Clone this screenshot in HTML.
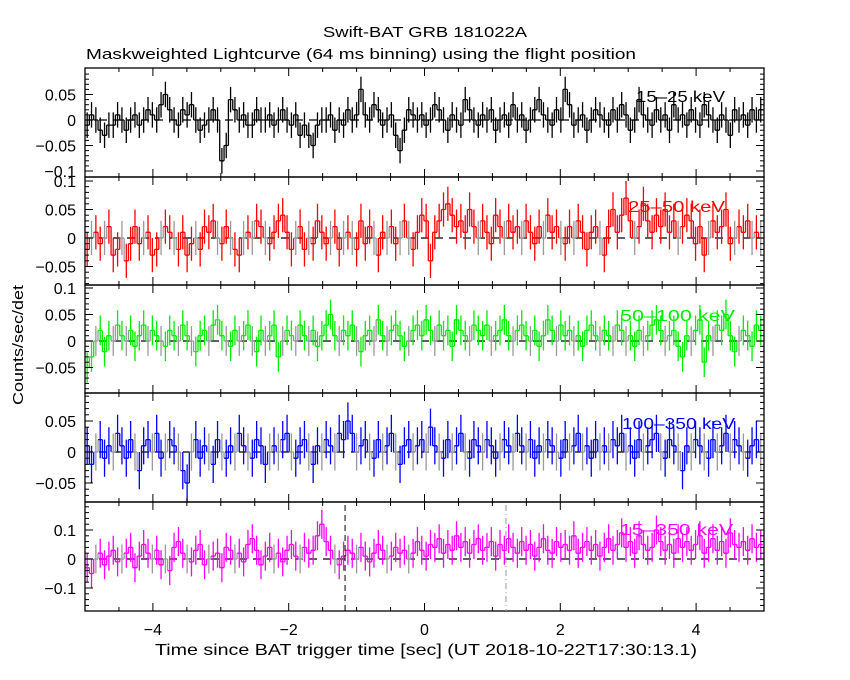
<!DOCTYPE html>
<html><head><meta charset="utf-8"><style>
body{margin:0;background:#fff;}
svg{display:block;font-family:"Liberation Sans",sans-serif;}
</style></head><body>
<svg id="chart" width="850" height="680" viewBox="0 0 850 680" xmlns="http://www.w3.org/2000/svg">
<rect width="850" height="680" fill="#fff"/>
<text x="323" y="37" font-size="15" textLength="204" lengthAdjust="spacingAndGlyphs">Swift-BAT GRB 181022A</text>
<text x="86" y="59" font-size="15" textLength="550" lengthAdjust="spacingAndGlyphs">Maskweighted Lightcurve (64 ms binning) using the flight position</text>
<text transform="translate(23,345) rotate(-90)" text-anchor="middle" font-size="15" textLength="120" lengthAdjust="spacingAndGlyphs">Counts/sec/det</text>
<text x="155" y="655" font-size="16" textLength="542" lengthAdjust="spacingAndGlyphs">Time since BAT trigger time [sec] (UT 2018-10-22T17:30:13.1)</text>
<g id="plots"></g>
</svg>
<script>
// values in units of 0.01 counts/sec/det, one per 64 ms bin starting at -5 s
const band15_25 = [-1,1,0,-2,-3,-1,-1,1,0,-2,0,1,-1,0,2,1,0,3,5,2,0,-1,2,1,3,0,-2,-1,0,2,0,-8,-5,4,2,0,1,-1,-1,2,0,0,1,-1,0,2,0,-1,1,-3,-1,-3,-5,-1,0,0,1,-2,0,-1,2,0,1,6,1,0,3,2,-1,0,1,-3,-6,-2,2,1,0,1,-1,0,3,2,0,-2,1,0,-1,4,2,0,-1,1,0,2,-2,0,1,-1,3,0,1,-2,0,2,4,1,0,-1,2,0,6,3,-1,0,1,-2,0,2,1,0,-1,2,0,3,1,-2,0,4,1,0,-1,2,0,1,-2,3,0,1,-1,2,0,-1,3,1,0,-2,1,0,-3,2,0,1,-1,2,0,2];
const band25_50 = [-2,0,1,-1,0,2,-3,-2,0,-4,-1,2,-1,0,1,-3,-2,0,2,1,0,-2,1,-3,-1,0,-2,2,1,3,0,-1,2,0,-2,-3,0,1,0,3,2,0,-1,1,3,4,1,-2,0,2,-2,0,-1,3,1,-1,0,2,-2,0,1,0,-2,3,-1,2,0,-3,1,0,2,-1,0,3,0,-2,1,4,3,-4,1,3,5,6,4,2,3,1,5,2,0,3,1,-1,4,2,0,3,1,2,0,3,1,-1,2,0,4,1,2,0,-1,2,0,3,1,-2,1,2,0,-3,2,5,1,4,7,3,0,2,6,3,1,4,2,5,1,3,0,2,4,3,-1,2,-3,0,3,1,2,5,-1,0,2,1,3,0,1,0];
const band50_100 = [-5,-3,0,2,-2,1,0,3,1,0,2,-1,1,3,0,2,1,0,-1,2,1,0,3,1,0,-2,1,2,0,3,4,1,0,-1,2,0,1,3,0,-2,2,0,1,3,-3,0,2,1,0,3,1,0,2,-1,1,3,5,1,0,2,1,3,0,-2,1,2,0,4,1,0,2,3,1,-1,0,2,3,1,4,2,0,3,1,2,-1,4,2,1,0,3,2,1,3,0,1,2,4,1,0,2,3,1,0,2,-1,1,4,2,0,3,1,2,0,1,-1,2,3,1,0,2,1,0,3,2,0,1,-1,2,0,1,3,4,2,0,1,2,-1,-3,1,0,2,4,-4,1,0,3,2,5,1,-2,0,2,1,-1,3,2];
const band100_350 = [1,-2,0,2,-1,1,0,3,1,-1,2,0,-3,1,2,0,3,-1,0,2,1,0,-3,-5,0,2,-1,1,0,-2,2,0,-1,1,0,3,1,0,-1,2,1,-2,0,1,0,2,3,0,-1,1,2,0,-2,1,0,2,1,0,3,2,5,3,0,1,2,0,-1,2,0,1,3,0,-2,1,2,0,1,2,0,4,1,0,-1,2,0,1,3,0,-1,2,1,0,2,1,-1,0,2,1,0,3,1,0,2,-1,1,0,2,1,0,-1,2,0,1,3,0,1,-1,2,0,1,0,2,1,3,0,1,-1,2,0,1,2,3,0,-1,2,1,0,-3,1,0,2,1,0,-1,2,0,1,3,0,2,1,0,-1,1,2,0];
const band15_350 = [-3,-5,0,2,-2,1,3,-1,0,2,4,-3,1,5,2,0,3,-2,0,-4,4,6,2,0,-1,3,5,-2,0,1,2,-3,4,3,0,2,-1,5,7,3,-2,1,4,0,2,-1,3,5,1,0,4,2,3,8,12,6,3,0,-2,1,3,2,0,4,1,-1,2,5,3,0,1,4,2,3,0,2,6,3,1,5,4,7,2,5,3,8,4,6,2,5,7,3,4,6,1,5,3,7,4,2,6,3,5,1,4,7,3,2,6,4,5,3,8,2,4,6,3,5,1,4,7,3,5,9,4,6,2,8,5,3,4,10,6,3,5,2,7,4,6,3,5,8,2,4,7,3,6,2,9,5,4,6,3,7,4,5];
const bandNames = ["15–25 keV","25–50 keV","50–100 keV","100–350 keV","15–350 keV"];
const bandErrors = [2.5,3,2.8,3,5];
const yTickValues = [[0.05,0,-0.05,-0.1],[0.1,0.05,0,-0.05],[0.1,0.05,0,-0.05],[0.05,0,-0.05],[0.1,0,-0.1]];
const yTickLabels = [["0.05","0","−0.05","−0.1"],["0.1","0.05","0","−0.05"],["0.1","0.05","0","−0.05"],["0.05","0","−0.05"],["0.1","0","−0.1"]];
const xTickValues = [-4,-2,0,2,4];
const xTickLabels = ["−4","−2","0","2","4"];
const binWidth = 0.064, tStart = -5;

const NS="http://www.w3.org/2000/svg";
const g=document.getElementById('plots');
function el(tag,attrs,parent){const e=document.createElementNS(NS,tag);for(const k in attrs)e.setAttribute(k,attrs[k]);(parent||g).appendChild(e);return e;}
const X0=85,X1=764;
function xs(t){return X0+(t+5)/10*(X1-X0);}
const panels=[
 {top:68,bot:177,zero:120,unit:25.5/0.05,color:"#000",data:band15_25,lx:636,ly:102,lw:89},
 {top:177,bot:285,zero:238,unit:28.5/0.05,color:"#ff0000",data:band25_50,lx:628,ly:212,lw:97},
 {top:285,bot:393,zero:341,unit:26.5/0.05,color:"#00ee00",data:band50_100,lx:620,ly:321,lw:115},
 {top:393,bot:502,zero:452,unit:31/0.05,color:"#0000ff",data:band100_350,lx:622,ly:429,lw:113},
 {top:502,bot:611,zero:559,unit:29/0.1,color:"#ff00ff",data:band15_350,lx:620,ly:535,lw:113}
];
panels.forEach((p,pi)=>{
  const pg=el('g',{});
  
  
  const ys=v=>p.zero-v*p.unit;
  const clipId='clip'+pi;
  const cp=el('clipPath',{id:clipId},pg);el('rect',{x:X0,y:p.top,width:X1-X0,height:p.bot-p.top},cp);
  const dg=el('g',{'clip-path':'url(#'+clipId+')'},pg);
  const zl=el('line',{x1:X0,x2:X1,y1:p.zero,y2:p.zero,stroke:'#000','stroke-dasharray':'8,6','stroke-width':1.2},dg);
  
  
  const err=bandErrors[pi]/100;
  p.data.forEach((vv,i)=>{
    const v=vv/100;
    const t0=tStart+i*binWidth,t1=t0+binWidth;
    const c=(pi>0 && vv===0)?'#999':p.color;
    const xa=xs(t0),xb=xs(t1),xm=(xa+xb)/2,y=ys(v);
    const bar=el('path',{d:`M${xa},${y}H${xb}M${xm},${ys(v+err)}V${ys(v-err)}`+(i+1<p.data.length?`M${xb},${y}V${ys(p.data[i+1]/100)}`:''),stroke:c,fill:'none','stroke-width':1.3},dg);
    
    
  });
  const fr=el('rect',{x:X0,y:p.top,width:X1-X0,height:p.bot-p.top,fill:'none',stroke:'#000','stroke-width':1.3},pg);
  
  
  for(let t=-5;t<=5;t+=0.5){
    const major=Math.abs(t%2)<1e-9 && Math.abs(t)<5;
    const L=major?8:4, x=xs(t);
    el('line',{x1:x,x2:x,y1:p.top,y2:p.top+L,stroke:'#000'},pg);
    el('line',{x1:x,x2:x,y1:p.bot,y2:p.bot-L,stroke:'#000'},pg);
  }
  const step=pi===4?0.02:0.01;
  for(let v=-0.3;v<=0.3;v+=step){
    const y=ys(v); if(y<=p.top+1||y>=p.bot-1)continue;
    const major=yTickValues[pi].some(tv=>Math.abs(tv-v)<1e-6);
    const L=major?8:4;
    el('line',{x1:X0,x2:X0+L,y1:y,y2:y,stroke:'#000'},pg);
    el('line',{x1:X1,x2:X1-L,y1:y,y2:y,stroke:'#000'},pg);
  }
  yTickValues[pi].forEach((tv,k)=>{
    const tl=el('text',{x:76,y:ys(tv)+6,'text-anchor':'end','font-size':16},pg);
    tl.textContent=yTickLabels[pi][k];
    
    
  });
  const lab=el('text',{x:p.lx,y:p.ly,'font-size':16,fill:p.color,textLength:p.lw,lengthAdjust:'spacingAndGlyphs'},pg);
  lab.textContent=bandNames[pi];
  
  
});
const m1=el('line',{x1:xs(-1.17),x2:xs(-1.17),y1:505,y2:611,stroke:'#000','stroke-dasharray':'6,4'});


const m2=el('line',{x1:xs(1.2),x2:xs(1.2),y1:505,y2:611,stroke:'#999','stroke-dasharray':'6,3,1,3'});


xTickValues.forEach((t,k)=>{
  const tl=el('text',{x:xs(t),y:635,'text-anchor':'middle','font-size':16});
  tl.textContent=xTickLabels[k];
  
  
});
</script>
</body></html>
